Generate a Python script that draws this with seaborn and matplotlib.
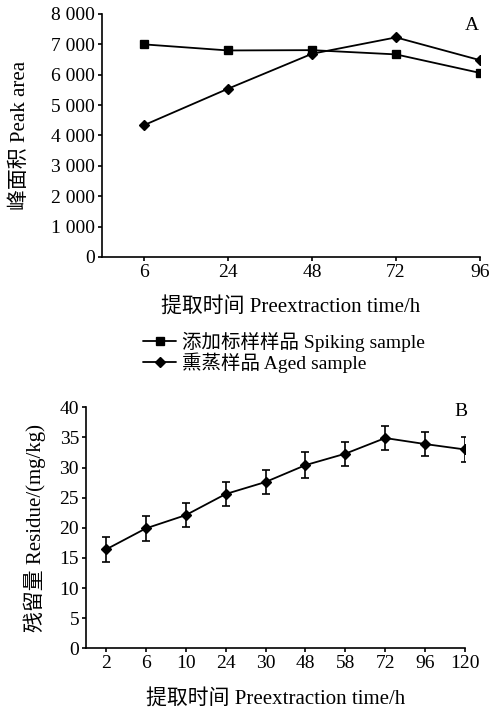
import matplotlib
matplotlib.use("Agg")
import matplotlib.pyplot as plt
import seaborn as sns
import pandas as pd
import numpy as np

# ---- data ----
a_times = ["6", "24", "48", "72", "96"]
a_spiking = [7000, 6800, 6810, 6670, 6060]
a_aged = [4340, 5540, 6690, 7230, 6480]
a_yticks = [0, 1000, 2000, 3000, 4000, 5000, 6000, 7000, 8000]
a_yticklabels = ["0", "1 000", "2 000", "3 000", "4 000", "5 000", "6 000", "7 000", "8 000"]
series_names = ["添加标样样品 Spiking sample", "熏蒸样品 Aged sample"]

b_times = ["2", "6", "10", "24", "30", "48", "58", "72", "96", "120"]
b_residue = [16.4, 19.9, 22.1, 25.6, 27.6, 30.4, 32.3, 34.9, 33.9, 33.0]
b_err = [2.0, 2.1, 2.0, 2.05, 2.0, 2.1, 2.0, 2.0, 2.0, 2.0]
b_yticks = [0, 5, 10, 15, 20, 25, 30, 35, 40]

xlabel = "提取时间 Preextraction time/h"
a_ylabel = "峰面积 Peak area"
b_ylabel = "残留量 Residue/(mg/kg)"

sns.set_theme(style="ticks")
plt.rcParams['font.family'] = ['Liberation Serif', 'Noto Sans CJK SC']
plt.rcParams['axes.linewidth'] = 1.2
plt.rcParams['xtick.major.width'] = 1.2
plt.rcParams['ytick.major.width'] = 1.2
plt.rcParams['xtick.major.size'] = 3
plt.rcParams['ytick.major.size'] = 3
plt.rcParams['xtick.direction'] = 'out'
plt.rcParams['ytick.direction'] = 'out'
plt.rcParams['axes.edgecolor'] = 'black'
plt.rcParams['xtick.color'] = 'black'
plt.rcParams['ytick.color'] = 'black'
plt.rcParams['text.color'] = 'black'
plt.rcParams['axes.labelcolor'] = 'black'

FS = 14
LFS = 15

fig = plt.figure(figsize=(4.9, 7.11), dpi=100)
axA = fig.add_axes([102/490, 1-257/711, (480-102)/490, (257-14)/711])
axB = fig.add_axes([86/490, 1-648.3/711, (465-86)/490, (648.3-407.3)/711])

# ---- panel A ----
dfA = pd.DataFrame({
    "time": a_times * 2,
    "value": a_spiking + a_aged,
    "series": [series_names[0]] * len(a_times) + [series_names[1]] * len(a_times),
})
sns.pointplot(data=dfA, x="time", y="value", hue="series", order=a_times,
              hue_order=series_names, palette=["black", "black"],
              markers=["s", "D"], linestyles=["-", "-"], errorbar=None,
              markersize=6, linewidth=1.3, ax=axA, legend=True)
for ln in axA.lines:
    if ln.get_marker() == "D":
        ln.set_markersize(5)
axA.set_xlim(-0.5, len(a_times) - 1)
axA.set_ylim(0, 8000)
axA.set_yticks(a_yticks)
axA.set_yticklabels(a_yticklabels)
axA.set_xlabel(xlabel, fontsize=LFS)
axA.set_ylabel(a_ylabel, fontsize=LFS)
axA.xaxis.set_label_coords(0.5, -0.163)
axA.yaxis.set_label_coords(-0.190, 0.5)
axA.tick_params(labelsize=FS, pad=2)
sns.despine(ax=axA)
axA.text(472, 711 - 25, "A", transform=None, fontsize=FS, ha="center", va="center")
handles, labels = axA.get_legend_handles_labels()
axA.get_legend().remove()
for h in handles:
    if hasattr(h, "get_marker") and h.get_marker() == "D":
        h.set_markersize(5)
fig.legend(handles, labels, loc="upper left", bbox_to_anchor=(143/490, 1-332/711),
           frameon=False, fontsize=14, handlelength=1.7, handletextpad=0.3,
           labelspacing=0.0, borderpad=0, borderaxespad=0)

# ---- panel B ----
dfB = pd.DataFrame({"time": b_times, "value": b_residue})
sns.pointplot(data=dfB, x="time", y="value", order=b_times, color="black",
              markers="D", errorbar=None, markersize=5, linewidth=1.3, ax=axB)
axB.errorbar(np.arange(len(b_times)), b_residue, yerr=b_err, fmt="none",
             ecolor="black", elinewidth=1.2, capsize=3.2, capthick=1.2)
axB.set_xlim(-0.5, len(b_times) - 1)
axB.set_ylim(0, 40)
axB.set_yticks(b_yticks)
axB.set_xlabel(xlabel, fontsize=LFS)
axB.set_ylabel(b_ylabel, fontsize=LFS)
axB.xaxis.set_label_coords(0.5, -0.168)
axB.yaxis.set_label_coords(-0.105, 0.5)
axB.tick_params(labelsize=FS, pad=2)
sns.despine(ax=axB)
axB.text(461, 711 - 412, "B", transform=None, fontsize=FS, ha="center", va="center")

fig.savefig("out.png", dpi=100)
